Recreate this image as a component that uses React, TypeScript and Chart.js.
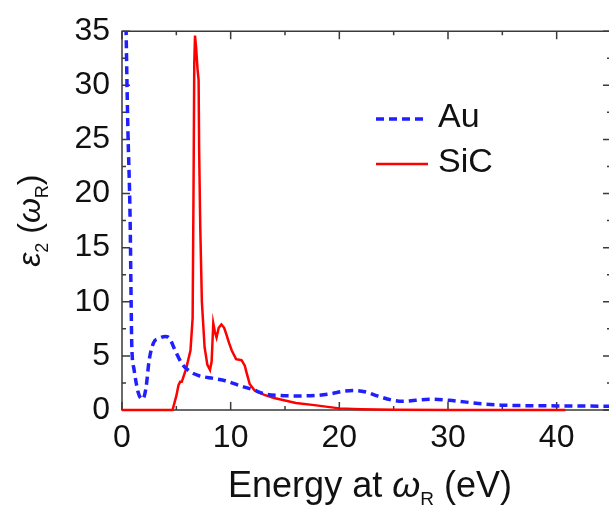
import { useEffect, useRef } from 'react';
import { Chart, registerables } from 'chart.js';

Chart.register(...registerables);

const FONT = "'Liberation Sans', Arial, sans-serif";

// Au dielectric function (imag. part) vs energy
const auX = [0.25, 0.38, 0.53, 0.75, 0.84, 0.9, 1.1, 1.5, 1.9, 2.2, 2.5, 2.9, 3.4, 4.0, 4.4, 4.8, 5.5, 6.2, 7.0, 8.5, 9.5, 11.0, 12.0, 13.1, 14.5, 16.1, 18.0, 19.2, 20.5, 21.5, 22.5, 23.5, 24.9, 25.8, 27.0, 28.3, 30.1, 31.5, 32.8, 34.9, 37.0, 40.0, 42.0, 45.0];
const auY = [45, 35, 26.5, 17.4, 10, 6, 3.8, 1.6, 1.0, 2.0, 4.6, 6.2, 6.6, 6.8, 6.6, 5.7, 4.3, 3.6, 3.2, 2.9, 2.7, 2.2, 1.9, 1.5, 1.35, 1.3, 1.35, 1.5, 1.75, 1.8, 1.65, 1.3, 0.9, 0.8, 0.9, 1.0, 0.9, 0.75, 0.6, 0.45, 0.4, 0.38, 0.37, 0.35];

// SiC
const sicX = [0, 4.65, 5.0, 5.2, 5.35, 5.5, 5.9, 6.3, 6.5, 6.58, 6.65, 6.72, 6.82, 6.95, 7.05, 7.1, 7.2, 7.35, 7.6, 7.85, 8.1, 8.25, 8.4, 8.55, 8.7, 8.9, 9.15, 9.4, 9.6, 9.85, 10.1, 10.5, 11.0, 11.3, 11.45, 11.75, 12.2, 13.1, 14.0, 14.9, 16.0, 17.7, 20.0, 22.0, 25.0, 30.0, 40.8];
const sicY = [0, 0, 1.3, 2.3, 2.6, 2.6, 3.8, 5.5, 8.5, 20, 32, 34.6, 33.5, 31.5, 30.5, 24, 17, 10, 5.8, 4.2, 3.7, 4.5, 8.0, 7.2, 6.7, 7.6, 7.9, 7.6, 7.0, 6.2, 5.5, 4.7, 4.6, 4.1, 3.5, 2.4, 1.8, 1.4, 1.1, 0.9, 0.65, 0.45, 0.15, 0.08, 0.03, 0, 0];

const xMajor = [0, 10, 20, 30, 40];
const xMinor = [5, 15, 25, 35, 45];
const yMajor = [0, 5, 10, 15, 20, 25, 30, 35];
const yMinor = [2.5, 7.5, 12.5, 17.5, 22.5, 27.5, 32.5];

const legendLabels = ['Au', 'SiC'];

type Piece = { t: string; it?: boolean; sub?: boolean };

function drawRich(ctx: CanvasRenderingContext2D, pieces: Piece[], size: number, subSize: number, subShift: number) {
  const fontOf = (p: Piece) => `${p.it ? 'italic ' : ''}${p.sub ? subSize : size}px ${FONT}`;
  let total = 0;
  const widths = pieces.map((p) => {
    ctx.font = fontOf(p);
    const w = ctx.measureText(p.t).width;
    total += w;
    return w;
  });
  let x = -total / 2;
  ctx.textAlign = 'left';
  ctx.textBaseline = 'alphabetic';
  pieces.forEach((p, i) => {
    ctx.font = fontOf(p);
    ctx.fillText(p.t, x, p.sub ? subShift : 0);
    x += widths[i];
  });
}

const decorPlugin = {
  id: 'decor',
  beforeDatasetsDraw(chart: any) {
    const { ctx, chartArea: a, scales } = chart;
    const xs = scales.x;
    const ys = scales.y;
    ctx.save();
    ctx.strokeStyle = '#3a3a3a';
    ctx.lineWidth = 1.5;
    ctx.beginPath();
    ctx.rect(a.left, a.top, a.right - a.left, a.bottom - a.top);
    ctx.stroke();
    const major = 8;
    const minor = 4;
    ctx.beginPath();
    const vx = (v: number, len: number) => {
      const p = xs.getPixelForValue(v);
      ctx.moveTo(p, a.bottom);
      ctx.lineTo(p, a.bottom - len);
      ctx.moveTo(p, a.top);
      ctx.lineTo(p, a.top + len);
    };
    const vy = (v: number, len: number) => {
      const p = ys.getPixelForValue(v);
      ctx.moveTo(a.left, p);
      ctx.lineTo(a.left + len, p);
      ctx.moveTo(a.right, p);
      ctx.lineTo(a.right - len, p);
    };
    xMajor.forEach((v) => vx(v, major));
    xMinor.forEach((v) => vx(v, minor));
    yMajor.forEach((v) => vy(v, major));
    yMinor.forEach((v) => vy(v, minor));
    ctx.stroke();
    ctx.restore();
  },
  afterDraw(chart: any) {
    const { ctx, chartArea: a } = chart;
    ctx.save();
    ctx.fillStyle = '#111';
    // x title
    ctx.save();
    ctx.translate(370, 497);
    drawRich(ctx, [
      { t: 'Energy at ' },
      { t: 'ω', it: true },
      { t: 'R', sub: true },
      { t: ' (eV)' },
    ], 36, 19, 8);
    ctx.restore();
    // y title
    ctx.save();
    ctx.translate(40, (a.top + a.bottom) / 2);
    ctx.rotate(-Math.PI / 2);
    drawRich(ctx, [
      { t: 'ε', it: true },
      { t: '2', sub: true },
      { t: ' (' },
      { t: 'ω', it: true },
      { t: 'R', sub: true },
      { t: ')' },
    ], 32, 18, 8);
    ctx.restore();
    // legend
    const ds = chart.data.datasets;
    const rows = [119, 164];
    ds.forEach((d: any, i: number) => {
      const y = rows[i];
      ctx.save();
      ctx.strokeStyle = d.borderColor;
      ctx.lineWidth = d.borderWidth;
      ctx.setLineDash(d.borderDash || []);
      ctx.beginPath();
      ctx.moveTo(376, y);
      ctx.lineTo(i === 0 ? 425 : 428, y);
      ctx.stroke();
      ctx.restore();
      ctx.font = `34px ${FONT}`;
      ctx.textAlign = 'left';
      ctx.textBaseline = 'alphabetic';
      ctx.fillText(legendLabels[i], 438, y + 8);
    });
    ctx.restore();
  },
};

export default function App() {
  const ref = useRef<HTMLCanvasElement | null>(null);
  useEffect(() => {
    if (!ref.current) return;
    const chart = new Chart(ref.current, {
      type: 'line',
      data: {
        datasets: [
          {
            label: legendLabels[0],
            data: auX.map((x, i) => ({ x, y: auY[i] })),
            borderColor: '#1f1fff',
            borderWidth: 3.5,
            borderDash: [8, 5],
            pointRadius: 0,
            cubicInterpolationMode: 'monotone',
            clip: { left: 0, top: 0, right: 0, bottom: 2 },
          },
          {
            label: legendLabels[1],
            data: sicX.map((x, i) => ({ x, y: sicY[i] })),
            borderColor: '#ff0000',
            borderWidth: 2.5,
            pointRadius: 0,
            tension: 0,
            clip: { left: 0, top: 0, right: 0, bottom: 2 },
          },
        ],
      } as any,
      options: {
        responsive: false,
        animation: false,
        devicePixelRatio: 1,
        layout: { padding: { top: 28, right: 3, left: 0, bottom: 0 } },
        plugins: { legend: { display: false }, tooltip: { enabled: false } },
        scales: {
          x: {
            type: 'linear',
            min: 0,
            max: 45,
            grid: { display: false, drawTicks: false },
            border: { display: false },
            ticks: {
              stepSize: 10,
              autoSkip: false,
              maxRotation: 0,
              padding: 9,
              color: '#111',
              font: { family: FONT, size: 32 },
              callback: (v: any) => (xMajor.includes(Number(v)) ? String(v) : ''),
            },
            afterFit: (s: any) => { s.height = 100; },
          },
          y: {
            type: 'linear',
            min: 0,
            max: 35,
            grid: { display: false, drawTicks: false },
            border: { display: false },
            ticks: {
              stepSize: 5,
              autoSkip: false,
              padding: 12,
              color: '#111',
              font: { family: FONT, size: 32 },
            },
            afterFit: (s: any) => { s.width = 122; },
          },
        },
      } as any,
      plugins: [decorPlugin],
    });
    return () => chart.destroy();
  }, []);
  return (
    <div style={{ position: 'absolute', left: 0, top: 0, width: 609, height: 510, overflow: 'hidden', background: '#fff' }}>
      <canvas ref={ref} width={620} height={510} style={{ width: 620, height: 510, display: 'block' }} />
    </div>
  );
}
